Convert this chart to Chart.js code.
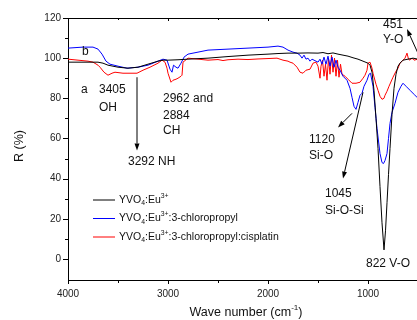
<!DOCTYPE html>
<html>
<head>
<meta charset="utf-8">
<script src="https://cdn.jsdelivr.net/npm/chart.js@4.4.1/dist/chart.umd.min.js"></script>
<style>
  html, body { margin: 0; padding: 0; background: #fff; overflow: hidden; width: 417px; height: 320px; }
</style>
</head>
<body>
<canvas id="irChart" width="440" height="320"></canvas>
<script>
// YVO4:Eu3+ (a)
const blackWave = [4000, 3900, 3800, 3700, 3650, 3600, 3500, 3400, 3300, 3200, 3100, 3050, 3000, 2900, 2800, 2600, 2400, 2200, 2000, 1900, 1800, 1700, 1600, 1500, 1450, 1400, 1350, 1300, 1250, 1200, 1150, 1100, 1050, 1000, 980, 960, 940, 920, 900, 880, 860, 840, 825, 810, 795, 780, 760, 740, 720, 700, 680, 650, 600, 550, 500, 450, 400];
const blackR    = [98, 98, 98, 98, 97.5, 96.5, 95.5, 95, 95.5, 97, 98.5, 99, 99, 99.2, 99.5, 100, 100.8, 101.5, 102, 102.3, 102.5, 102.5, 102.6, 102.5, 102.8, 102.2, 102.6, 102, 101.5, 101, 100.2, 99.5, 98.5, 97.5, 96.5, 93, 84, 70, 55, 36, 18, 4.5, 14, 28, 42, 55, 72, 85, 92, 96, 97.5, 99, 99.5, 100, 99.5, 99.5, 99];

// YVO4:Eu3+:3-chloropropyl (b)
const blueWave = [4000, 3850, 3750, 3700, 3660, 3620, 3580, 3500, 3410, 3300, 3200, 3100, 3050, 3010, 2980, 2960, 2945, 2920, 2900, 2870, 2840, 2800, 2700, 2600, 2400, 2200, 2000, 1900, 1850, 1800, 1750, 1710, 1680, 1660, 1640, 1620, 1600, 1580, 1560, 1540, 1500, 1480, 1460, 1440, 1420, 1400, 1380, 1360, 1340, 1320, 1300, 1280, 1250, 1210, 1180, 1160, 1140, 1120, 1100, 1080, 1060, 1040, 1010, 990, 975, 950, 930, 910, 880, 860, 845, 830, 810, 795, 780, 760, 730, 700, 670, 650, 620, 580, 540, 510, 480, 400];
const blueR    = [105, 105.5, 105.5, 104.5, 102, 98.5, 97, 96, 95, 95.5, 96.5, 98.5, 99.5, 99, 94.5, 93, 96.5, 95.5, 95, 97.5, 100.5, 102, 103, 104, 104.5, 105, 105.5, 106, 105.5, 104, 103, 102.5, 101.5, 100, 101.5, 99.5, 100, 98.5, 99.5, 99, 98, 99.5, 97, 100.5, 97, 101, 96, 100.5, 95.5, 99, 95.5, 94, 91, 89, 85, 80.5, 76, 74.5, 78, 81.5, 82.5, 86, 89, 92, 92.5, 86, 75.5, 65, 52.5, 48, 47.5, 49, 52.5, 60, 67.5, 73, 77.5, 83, 86, 87.5, 86, 84, 82, 80.5, 79, 77];

// YVO4:Eu3+:3-chloropropyl:cisplatin
const redWave = [4000, 3900, 3800, 3750, 3700, 3680, 3640, 3600, 3560, 3530, 3450, 3310, 3250, 3180, 3100, 3060, 3030, 3010, 3000, 2970, 2950, 2920, 2900, 2870, 2860, 2850, 2800, 2700, 2600, 2500, 2450, 2400, 2300, 2200, 2100, 2000, 1910, 1850, 1800, 1780, 1750, 1710, 1680, 1650, 1620, 1580, 1550, 1520, 1500, 1480, 1470, 1455, 1440, 1425, 1410, 1395, 1380, 1365, 1350, 1335, 1320, 1305, 1290, 1275, 1260, 1230, 1200, 1160, 1120, 1080, 1050, 1030, 1010, 1000, 980, 960, 950, 920, 900, 880, 860, 840, 830, 810, 790, 750, 720, 700, 680, 650, 630, 610, 595, 580, 560, 540, 500, 400];
const redR    = [99.5, 99, 98.5, 98, 96.5, 95.5, 93, 91.5, 92.5, 93, 92.5, 92.5, 94, 95.5, 97.5, 99, 98, 95, 92.5, 88, 89, 89.5, 90, 91, 91.5, 98, 100, 99.5, 99, 99.3, 98.8, 99.2, 99.5, 99.3, 99.6, 99.8, 100, 99, 98.5, 98, 97.5, 95.5, 93, 92.5, 94, 94.5, 97.5, 98, 96, 90, 96, 99, 91, 97, 89, 100, 92, 101.5, 93, 100, 91, 99, 90.5, 97, 92, 91, 89.5, 87.5, 87.5, 88, 90, 91.5, 94, 97.5, 98, 95, 92.5, 87, 84, 81, 79.5, 80, 81.5, 83.5, 86, 90.5, 93.5, 95, 97.5, 99, 100, 102.5, 99.5, 99, 100, 99, 99.5, 99.5];

// axes
const xTicks = [4000, 3500, 3000, 2500, 2000, 1500, 1000, 500];
const yTicks = [0, 10, 20, 30, 40, 50, 60, 70, 80, 90, 100, 110, 120];

// legend entries, as [text, 'sub' | 'sup' | ''] pieces
const legendItems = [
  { color: '#000000', parts: [['YVO', ''], ['4', 'sub'], [':Eu', ''], ['3+', 'sup']] },
  { color: '#0000ff', parts: [['YVO', ''], ['4', 'sub'], [':Eu', ''], ['3+', 'sup'], [':3-chloropropyl', '']] },
  { color: '#ff0000', parts: [['YVO', ''], ['4', 'sub'], [':Eu', ''], ['3+', 'sup'], [':3-chloropropyl:cisplatin', '']] }
];

// peak labels (wave number / R of the text's left-middle point)
const peakLabels = [
  { text: 'a', x: 3870, y: 84.5 },
  { text: 'b', x: 3860, y: 103 },
  { text: '3405', x: 3690, y: 84.5 },
  { text: 'OH', x: 3690, y: 75.5 },
  { text: '3292 NH', x: 3400, y: 48.5 },
  { text: '2962 and', x: 3050, y: 80 },
  { text: '2884', x: 3050, y: 71.5 },
  { text: 'CH', x: 3050, y: 64 },
  { text: '451', x: 850, y: 116.5 },
  { text: 'Y-O', x: 850, y: 109 },
  { text: '1120', x: 1590, y: 59.5 },
  { text: 'Si-O', x: 1590, y: 51.5 },
  { text: '1045', x: 1430, y: 32.5 },
  { text: 'Si-O-Si', x: 1430, y: 24 },
  { text: '822 V-O', x: 1020, y: -2.5 }
];

// arrows: from -> to (head at "to")
const peakArrows = [
  { x1: 3310, y1: 90.5, x2: 3310, y2: 54 },
  { x1: 460, y1: 98, x2: 610, y2: 114.5 },
  { x1: 1160, y1: 72.5, x2: 1300, y2: 65.5 },
  { x1: 1050, y1: 83, x2: 1250, y2: 40 }
];

const FONT = '"Liberation Sans", Arial, sans-serif';

function toPoints(xs, ys) {
  return xs.map((x, i) => ({ x: x, y: ys[i] }));
}

function richWidth(ctx, parts, size) {
  let w = 0;
  parts.forEach(([t, m]) => {
    ctx.font = (m ? size * 0.65 : size) + 'px ' + FONT;
    w += ctx.measureText(t).width;
  });
  return w;
}

function richText(ctx, parts, x, y, size) {
  let cx = x;
  parts.forEach(([t, m]) => {
    const s = m ? size * 0.65 : size;
    ctx.font = s + 'px ' + FONT;
    const dy = m === 'sub' ? size * 0.32 : (m === 'sup' ? -size * 0.38 : 0);
    ctx.fillText(t, cx, y + dy);
    cx += ctx.measureText(t).width;
  });
}

function arrow(ctx, x1, y1, x2, y2) {
  const a = Math.atan2(y2 - y1, x2 - x1);
  const len = 7, half = 2.5;
  ctx.beginPath();
  ctx.moveTo(x1, y1);
  ctx.lineTo(x2 - len * Math.cos(a), y2 - len * Math.sin(a));
  ctx.stroke();
  ctx.beginPath();
  ctx.moveTo(x2, y2);
  ctx.lineTo(x2 - len * Math.cos(a) + half * Math.sin(a), y2 - len * Math.sin(a) - half * Math.cos(a));
  ctx.lineTo(x2 - len * Math.cos(a) - half * Math.sin(a), y2 - len * Math.sin(a) + half * Math.cos(a));
  ctx.closePath();
  ctx.fill();
}

// draws tick marks, top frame, legend, peak labels and axis titles
const decorPlugin = {
  id: 'decor',
  afterDraw(chart) {
    const { ctx, chartArea: area, scales: { x, y } } = chart;
    ctx.save();
    ctx.strokeStyle = '#000';
    ctx.fillStyle = '#000';
    ctx.lineWidth = 1;

    // frame top + right
    ctx.beginPath();
    ctx.moveTo(area.left, area.top + 0.5);
    ctx.lineTo(area.right, area.top + 0.5);
    ctx.moveTo(area.right - 0.5, area.top);
    ctx.lineTo(area.right - 0.5, area.bottom);
    ctx.stroke();

    // tick marks
    ctx.beginPath();
    yTicks.forEach(v => {
      const py = Math.round(y.getPixelForValue(v)) + 0.5;
      const len = v % 20 === 0 ? 5 : 3;
      ctx.moveTo(area.left - len, py);
      ctx.lineTo(area.left, py);
    });
    xTicks.forEach(v => {
      const px = Math.round(x.getPixelForValue(v)) + 0.5;
      const len = v % 1000 === 0 ? 4 : 3;
      ctx.moveTo(px, area.bottom);
      ctx.lineTo(px, area.bottom + len);
      ctx.moveTo(px, area.top);
      ctx.lineTo(px, area.top + (v % 1000 === 0 ? 3 : 2));
    });
    ctx.stroke();

    // legend
    ctx.textBaseline = 'middle';
    ctx.textAlign = 'left';
    legendItems.forEach((item, i) => {
      const ly = area.top + 182 + i * 18.5;
      ctx.strokeStyle = item.color;
      ctx.beginPath();
      ctx.moveTo(area.left + 25, ly);
      ctx.lineTo(area.left + 47, ly);
      ctx.stroke();
      ctx.fillStyle = '#111';
      richText(ctx, item.parts, area.left + 51, ly, 10.5);
    });

    // peak labels
    ctx.fillStyle = '#111';
    ctx.font = '12px ' + FONT;
    peakLabels.forEach(l => {
      ctx.fillText(l.text, x.getPixelForValue(l.x), y.getPixelForValue(l.y));
    });
    ctx.strokeStyle = '#000';
    ctx.fillStyle = '#000';
    peakArrows.forEach(a => {
      arrow(ctx, x.getPixelForValue(a.x1), y.getPixelForValue(a.y1),
                 x.getPixelForValue(a.x2), y.getPixelForValue(a.y2));
    });

    // axis titles
    ctx.fillStyle = '#111';
    const xTitle = [['Wave number (cm', ''], ['-1', 'sup'], [')', '']];
    const w = richWidth(ctx, xTitle, 12.5);
    richText(ctx, xTitle, 246 - w / 2, 313, 12.5);

    ctx.translate(20, (area.top + area.bottom) / 2 - 3);
    ctx.rotate(-Math.PI / 2);
    ctx.textAlign = 'center';
    ctx.font = '12.5px ' + FONT;
    ctx.fillText('R (%)', 0, 0);
    ctx.restore();
  }
};

const ctx = document.getElementById('irChart').getContext('2d');
const irChart = new Chart(ctx, {
  type: 'line',
  data: {
    datasets: [
      { label: 'YVO4:Eu3+', data: toPoints(blackWave, blackR), borderColor: '#000000' },
      { label: 'YVO4:Eu3+:3-chloropropyl', data: toPoints(blueWave, blueR), borderColor: '#0000ff' },
      { label: 'YVO4:Eu3+:3-chloropropyl:cisplatin', data: toPoints(redWave, redR), borderColor: '#ff0000' }
    ]
  },
  options: {
    responsive: false,
    animation: false,
    devicePixelRatio: 1,
    datasets: {
      line: { borderWidth: 1, pointRadius: 0, tension: 0, fill: false }
    },
    layout: { padding: { top: 18, right: 12, left: 0, bottom: 0 } },
    plugins: {
      legend: { display: false },
      tooltip: { enabled: false }
    },
    scales: {
      x: {
        type: 'linear',
        reverse: true,
        min: 400,
        max: 4000,
        afterBuildTicks: s => { s.ticks = xTicks.map(v => ({ value: v })); },
        afterFit: s => { s.height = 40; },
        grid: { display: false, drawTicks: false },
        border: { display: true, color: '#000', width: 1 },
        ticks: {
          autoSkip: false,
          maxRotation: 0,
          padding: 8,
          color: '#222',
          font: { family: FONT, size: 10 },
          callback: v => (v % 1000 === 0 ? String(v) : '')
        }
      },
      y: {
        min: -10.5,
        max: 120,
        afterBuildTicks: s => { s.ticks = yTicks.map(v => ({ value: v })); },
        afterFit: s => { s.width = 68; },
        grid: { display: false, drawTicks: false },
        border: { display: true, color: '#000', width: 1 },
        ticks: {
          autoSkip: false,
          padding: 7,
          color: '#222',
          font: { family: FONT, size: 10 },
          callback: v => (v % 20 === 0 ? String(v) : '')
        }
      }
    }
  },
  plugins: [decorPlugin]
});
</script>
</body>
</html>
